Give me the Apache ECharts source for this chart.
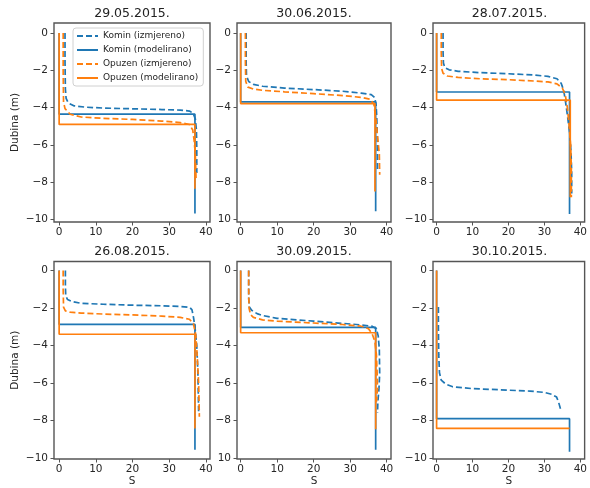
<!DOCTYPE html>
<html>
<head>
<meta charset="utf-8">
<script src="https://cdn.jsdelivr.net/npm/echarts@6/dist/echarts.min.js"></script>
<style>
  html, body { margin: 0; padding: 0; background: #fff; }
  #chart { width: 590px; height: 488px; }
</style>
</head>
<body>
<div id="chart"></div>
<script>
// Salinity (S) profiles against depth (m): measured vs. modelled, stations Komin and Opuzen
const dates = ['29.05.2015.', '30.06.2015.', '28.07.2015.', '26.08.2015.', '30.09.2015.', '30.10.2015.'];
const seriesNames = ['Komin (izmjereno)', 'Komin (modelirano)', 'Opuzen (izmjereno)', 'Opuzen (modelirano)'];
const xTicks = [0, 10, 20, 30, 40];
const yTicks = [0, -2, -4, -6, -8, -10];

// each point: [S, depth]
const kominIzmj_2905 = [[1.6,0],[1.6,-1.5],[1.7,-3.0],[1.9,-3.5],[2.5,-3.75],[4,-3.9],[7,-3.97],[12,-4.02],[20,-4.06],[28,-4.1],[33,-4.13],[35.5,-4.18],[36.5,-4.3],[37.1,-4.6],[37.4,-5.2],[37.5,-6.2],[37.5,-7.5]];
const kominModel_2905 = [[0,0],[0,-4.35],[37,-4.35],[37,-9.67]];
const opuzenIzmj_2905 = [[1.1,0],[1.1,-2],[1.2,-3.7],[1.6,-4.05],[3,-4.35],[6,-4.5],[12,-4.57],[20,-4.63],[28,-4.72],[33,-4.8],[35.5,-4.9],[36.4,-5.2],[36.8,-5.8],[37.1,-6.5],[37.3,-7.8]];
const opuzenModel_2905 = [[0,0],[0,-4.9],[37,-4.9],[37,-8.35]];

const kominIzmj_3006 = [[1.5,0],[1.5,-1.5],[1.6,-2.3],[2.2,-2.6],[3.5,-2.75],[6,-2.85],[12,-2.95],[20,-3.03],[28,-3.12],[33,-3.22],[35.8,-3.3],[36.7,-3.45],[37.1,-3.8],[37.3,-4.5],[37.5,-6],[37.5,-7.35]];
const kominModel_3006 = [[0,0],[0,-3.69],[37,-3.69],[37,-9.55]];
const opuzenIzmj_3006 = [[1.3,0],[1.3,-1.5],[1.4,-2.6],[2,-2.9],[3.5,-3.0],[6,-3.07],[12,-3.15],[20,-3.25],[28,-3.35],[33,-3.45],[35.5,-3.55],[36.5,-3.8],[37,-4.5],[37.5,-5.5],[38,-6.5],[38.1,-7.6]];
const opuzenModel_3006 = [[0,0],[0,-3.78],[36.8,-3.78],[36.8,-8.5]];

const kominIzmj_2807 = [[1.8,0],[1.8,-1],[1.9,-1.6],[2.3,-1.85],[3.5,-1.97],[6,-2.05],[12,-2.12],[20,-2.18],[27,-2.25],[31,-2.32],[33.5,-2.45],[34.7,-2.7],[35.4,-3.1],[35.9,-3.7],[36.4,-4.4],[37,-5.3],[37.4,-6.3],[37.6,-7.5],[37.6,-8.6]];
const kominModel_2807 = [[0,0],[0,-3.16],[37,-3.16],[37,-9.7]];
const opuzenIzmj_2807 = [[1.3,0],[1.3,-1],[1.4,-1.9],[1.8,-2.15],[3,-2.3],[6,-2.38],[12,-2.45],[20,-2.5],[27,-2.57],[31,-2.62],[33.5,-2.72],[35,-2.95],[35.8,-3.3],[36.4,-4.0],[36.9,-5.0],[37.3,-6.0],[37.5,-7.2],[37.5,-8.8]];
const opuzenModel_2807 = [[0,0],[0,-3.6],[37.2,-3.6],[37.2,-8.8]];

const kominIzmj_2608 = [[1.7,0],[1.7,-0.8],[1.8,-1.35],[2.3,-1.55],[3.5,-1.65],[6,-1.75],[12,-1.8],[20,-1.85],[28,-1.88],[33,-1.92],[35.6,-1.97],[36.2,-2.1],[36.6,-2.5],[37,-3],[37.5,-4],[37.8,-5.5],[38,-7.5]];
const kominModel_2608 = [[0,0],[0,-2.87],[37,-2.87],[37,-9.56]];
const opuzenIzmj_2608 = [[1.1,0],[1.1,-1],[1.2,-1.95],[1.7,-2.15],[3,-2.22],[6,-2.27],[12,-2.32],[20,-2.37],[28,-2.43],[33,-2.5],[35.5,-2.6],[36.6,-2.85],[37.2,-3.4],[37.6,-4.5],[38,-6],[38.2,-7.8]];
const opuzenModel_2608 = [[0,0],[0,-3.4],[37,-3.4],[37,-8.43]];

const kominIzmj_3009 = [[2.2,0],[2.2,-1.5],[2.4,-1.95],[3,-2.12],[4.5,-2.3],[6,-2.4],[10,-2.55],[20,-2.7],[28,-2.82],[33,-2.9],[36,-2.97],[37.2,-3.1],[37.7,-3.5],[38,-4.2],[38.1,-5.5],[37.9,-6.3],[37.6,-7.0],[37.5,-7.6]];
const kominModel_3009 = [[0,0],[0,-3.03],[37,-3.03],[37,-9.56]];
const opuzenIzmj_3009 = [[2.2,0],[2.2,-1.0],[2.3,-2.0],[2.7,-2.35],[3.5,-2.5],[6,-2.63],[10,-2.7],[20,-2.8],[28,-2.88],[33,-2.97],[35,-3.1],[36,-3.35],[36.8,-3.8],[37.2,-4.5],[37.4,-5.5],[37.5,-6.3],[37.2,-7.0]];
const opuzenModel_3009 = [[0,0],[0,-3.32],[37,-3.32],[37,-8.47]];

const kominIzmj_3010 = [[0.5,-1.95],[0.5,-3],[0.6,-4.5],[0.8,-5.45],[1.3,-5.85],[2.5,-6.05],[4.5,-6.2],[10,-6.3],[20,-6.38],[26,-6.43],[30,-6.5],[32,-6.6],[33.4,-6.75],[34,-7.05],[34.6,-7.45]];
const kominModel_3010 = [[0,0],[0,-7.9],[37,-7.9],[37,-9.67]];
const opuzenIzmj_3010 = [];
const opuzenModel_3010 = [[0,0],[0,-8.42],[37,-8.42]];

const profiles = [
  [kominIzmj_2905, kominModel_2905, opuzenIzmj_2905, opuzenModel_2905],
  [kominIzmj_3006, kominModel_3006, opuzenIzmj_3006, opuzenModel_3006],
  [kominIzmj_2807, kominModel_2807, opuzenIzmj_2807, opuzenModel_2807],
  [kominIzmj_2608, kominModel_2608, opuzenIzmj_2608, opuzenModel_2608],
  [kominIzmj_3009, kominModel_3009, opuzenIzmj_3009, opuzenModel_3009],
  [kominIzmj_3010, kominModel_3010, opuzenIzmj_3010, opuzenModel_3010]
];

// layout
const cols = [
  { left: 54, width: 156, xMin: -1.4, xMax: 41.1 },
  { left: 237, width: 154, xMin: -1.0, xMax: 41.2 },
  { left: 433, width: 153, xMin: -1.0, xMax: 41.2 }
];
const rows = [
  { top: 23, height: 199, yMin: -10.13, yMax: 0.54, titleY: 14 },
  { top: 261.5, height: 198, yMin: -10.05, yMax: 0.48, titleY: 251.5 }
];
const BLUE = '#1f77b4', ORANGE = '#ff7f0e';
const FONT = 'DejaVu Sans';
const SPINE = '#555';
const TXT = '#262626';
const dash = [6, 3];

const styles = [
  { color: BLUE, type: dash },
  { color: BLUE, type: 'solid' },
  { color: ORANGE, type: dash },
  { color: ORANGE, type: 'solid' }
];

const grid = [], xAxis = [], yAxis = [], series = [], graphics = [];
const minus = '\u2212';

dates.forEach((d, i) => {
  const r = rows[Math.floor(i / 3)], c = cols[i % 3];
  const isLeft = (i % 3) === 0, isBottom = i >= 3;
  grid.push({
    left: c.left, top: r.top, width: c.width, height: r.height,
    show: true, borderColor: SPINE, borderWidth: 1.4, backgroundColor: '#fff'
  });
  xAxis.push({
    type: 'value', gridIndex: i, min: c.xMin, max: c.xMax,
    name: isBottom ? 'S' : '', nameLocation: 'middle', nameGap: 17,
    nameTextStyle: { fontFamily: FONT, fontSize: 10.5, color: TXT },
    axisLine: { show: false, onZero: false },
    axisTick: { show: true, inside: false, length: 3.5, customValues: xTicks, lineStyle: { color: SPINE, width: 1 } },
    axisLabel: { show: true, customValues: xTicks, margin: 5, fontFamily: FONT, fontSize: 10.5, color: TXT },
    splitLine: { show: false }
  });
  const dropMinus = (i === 1 || i === 4);
  yAxis.push({
    type: 'value', gridIndex: i, min: r.yMin, max: r.yMax,
    name: isLeft ? 'Dubina (m)' : '', nameLocation: 'middle', nameGap: 33, nameRotate: 90,
    nameTextStyle: { fontFamily: FONT, fontSize: 10.5, color: TXT },
    axisLine: { show: false, onZero: false },
    axisTick: { show: true, inside: false, length: 3.5, customValues: yTicks, lineStyle: { color: SPINE, width: 1 } },
    axisLabel: {
      show: true, customValues: yTicks, margin: 6, fontFamily: FONT, fontSize: 10.5, color: TXT,
      formatter: v => {
        if (v === 0) return '0';
        if (dropMinus && v === -10) return '10';
        return v < 0 ? minus + Math.abs(v) : String(v);
      }
    },
    splitLine: { show: false }
  });
  profiles[i].forEach((data, k) => {
    series.push({
      type: 'line', name: seriesNames[k], xAxisIndex: i, yAxisIndex: i,
      data: data, symbol: 'none', showSymbol: false, smooth: false, clip: true,
      lineStyle: { color: styles[k].color, width: 1.7, type: styles[k].type },
      itemStyle: { color: styles[k].color },
      z: 2 + k, animation: false, silent: true
    });
  });
  graphics.push({
    type: 'text', x: c.left + c.width / 2, y: r.titleY,
    style: { text: d, fontFamily: FONT, fontSize: 12.5, fill: '#222', textAlign: 'center', textVerticalAlign: 'middle' }
  });
});

const chart = echarts.init(document.getElementById('chart'), null, { renderer: 'canvas' });
chart.setOption({
  backgroundColor: '#fff',
  animation: false,
  grid, xAxis, yAxis, series,
  graphic: graphics,
  legend: {
    data: seriesNames, orient: 'vertical', left: 73, top: 28,
    padding: [3, 5, 3, 3], itemWidth: 21, itemHeight: 10, itemGap: 4,
    backgroundColor: 'rgba(255,255,255,0.85)', borderColor: '#d0d0d0', borderWidth: 1, borderRadius: 3,
    textStyle: { fontFamily: FONT, fontSize: 9, color: TXT, lineHeight: 10 },
    itemStyle: { opacity: 0 },
    selectedMode: false
  }
});
</script>
</body>
</html>
